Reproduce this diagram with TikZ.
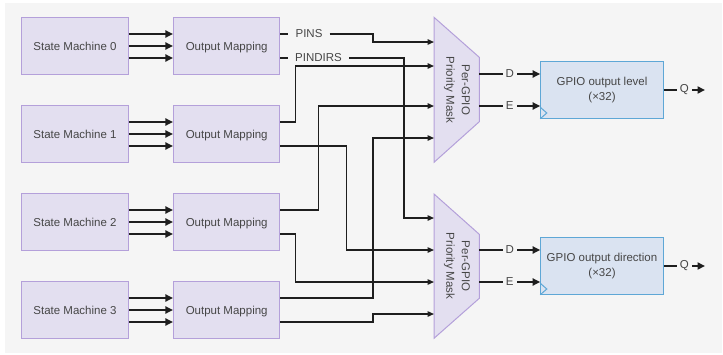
\documentclass[tikz,border=0pt]{standalone}
\usepackage{fontspec}
\setmainfont{Liberation Sans}
\usetikzlibrary{arrows.meta}
\definecolor{bg}{RGB}{245,245,245}
\definecolor{pfill}{RGB}{227,223,240}
\definecolor{pdraw}{RGB}{180,160,218}
\definecolor{bfill}{RGB}{218,227,241}
\definecolor{bdraw}{RGB}{94,167,214}
\definecolor{txt}{RGB}{70,70,70}
\definecolor{wirec}{RGB}{30,30,30}
\begin{document}
\begin{tikzpicture}[x=1pt,y=-1pt,
  lbl/.style={text=txt,font=\fontsize{11.5}{15.5}\selectfont},
  box/.style={lbl,draw=pdraw,fill=pfill,line width=1pt,minimum width=106.5pt,minimum height=56.5pt,inner sep=0pt,text height=8.3pt,text depth=0pt},
  gbox/.style={lbl,draw=bdraw,fill=bfill,line width=1pt,minimum width=122.6pt,minimum height=56.6pt,inner sep=0pt,align=center},
  bus/.style={draw=wirec,line width=2.6pt,-{Triangle[length=7.5pt,width=7pt]}},
  stub/.style={draw=wirec,line width=2.6pt},
  wire/.style={draw=wirec,line width=1.4pt,-{Triangle[length=6.5pt,width=5.5pt]}},
  gap/.style={lbl,fill=bg,inner sep=3pt},
  mux/.style={draw=pdraw,fill=pfill,line width=1pt}
]
\useasboundingbox (0,0) rectangle (723,354);
\fill[bg] (5,2.5) rectangle (722,353);

% state machines and output mappings
\foreach \i in {0,1,2,3}{
  \node[box] (sm\i) at (75,46+88*\i) {State Machine \i};
  \node[box] (om\i) at (226.7,46+88*\i) {Output Mapping};
  \draw[bus] ([yshift=12pt]sm\i.east) -- ([yshift=12pt]om\i.west);
  \draw[bus] (sm\i.east) -- (om\i.west);
  \draw[bus] ([yshift=-12pt]sm\i.east) -- ([yshift=-12pt]om\i.west);
}

% muxes
\draw[mux] (434,17.3) -- (479.3,57.3) -- (479.3,121.7) -- (434,162.3) -- cycle;
\draw[mux] (434,194) -- (479.3,234.3) -- (479.3,298.3) -- (434,338.3) -- cycle;
\node[lbl,rotate=-90,align=center] (mux1) at (457,89.8) {Per-GPIO\\Priority Mask};
\node[lbl,rotate=-90,align=center] (mux2) at (457,266.2) {Per-GPIO\\Priority Mask};

\coordinate (m1a) at (434,42);
\coordinate (m1b) at (434,66);
\coordinate (m1c) at (434,106);
\coordinate (m1d) at (434,138);
\coordinate (m2a) at (434,218);
\coordinate (m2b) at (434,250);
\coordinate (m2c) at (434,282);
\coordinate (m2d) at (434,314);
\coordinate (m1D) at (479.3,74);
\coordinate (m1E) at (479.3,106);
\coordinate (m2D) at (479.3,250);
\coordinate (m2E) at (479.3,282);

% PINS / PINDIRS labels
\node[lbl,inner xsep=7pt,inner ysep=1pt] (pins) at (309,34) {PINS};
\node[lbl,inner xsep=7pt,inner ysep=1pt] (pindirs) at (318.5,58) {PINDIRS};
\draw[stub] ([yshift=12pt]om0.east) -- (pins.west);
\draw[stub] ([yshift=-12pt]om0.east) -- (pindirs.west);

% wiring
\draw[wire] (pins.east) -- (373,34) -- (373,42) -- (m1a);
\draw[wire] (pindirs.east) -- (404,58) |- (m2a);
\draw[wire] ([yshift=12pt]om1.east) -- (295.7,122) |- (m1b);
\draw[wire] ([yshift=-12pt]om1.east) -- (346.7,146) |- (m2b);
\draw[wire] ([yshift=12pt]om2.east) -- (318.7,210) |- (m1c);
\draw[wire] ([yshift=-12pt]om2.east) -- (295.7,234) |- (m2c);
\draw[wire] ([yshift=12pt]om3.east) -- (373,298) |- (m1d);
\draw[wire] ([yshift=-12pt]om3.east) -- (373,322) -- (373,314) -- (m2d);

% GPIO registers
\node[gbox] (g1) at (602,90) {GPIO output level\\(×32)};
\node[gbox] (g2) at (602,266) {GPIO output direction\\(×32)};
\draw[bdraw,line width=1pt] ([yshift=11.6pt]g1.south west) -- ([xshift=6.6pt,yshift=5.8pt]g1.south west) -- (g1.south west);
\draw[bdraw,line width=1pt] ([yshift=11.6pt]g2.south west) -- ([xshift=6.6pt,yshift=5.8pt]g2.south west) -- (g2.south west);

\draw[bus] (m1D) -- node[gap] (d1) {D} ([yshift=16pt]g1.west);
\draw[bus] (m1E) -- node[gap] (e1) {E} ([yshift=-16pt]g1.west);
\draw[bus] (m2D) -- node[gap] (d2) {D} ([yshift=16pt]g2.west);
\draw[bus] (m2E) -- node[gap] (e2) {E} ([yshift=-16pt]g2.west);

\coordinate (q1end) at (705,90);
\coordinate (q2end) at (705,266);
\draw[bus] (g1.east) -- node[gap,inner xsep=2.8pt] (q1) {Q} (q1end);
\draw[bus] (g2.east) -- node[gap,inner xsep=2.8pt] (q2) {Q} (q2end);
\end{tikzpicture}
\end{document}
